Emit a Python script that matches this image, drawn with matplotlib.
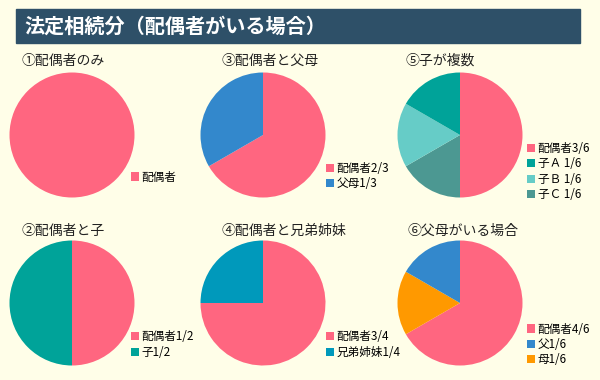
import matplotlib.pyplot as plt
from matplotlib.patches import Rectangle, Patch

plt.rcParams['font.family'] = ['Noto Sans CJK JP', 'DejaVu Sans']

W, H = 600, 380
bg = '#fffee8'

main_title = '法定相続分（配偶者がいる場合）'

titles = ['①配偶者のみ', '③配偶者と父母', '⑤子が複数',
          '②配偶者と子', '④配偶者と兄弟姉妹', '⑥父母がいる場合']

labels1 = ['配偶者']
labels3 = ['配偶者2/3', '父母1/3']
labels5 = ['配偶者3/6', '子Ａ 1/6', '子Ｂ 1/6', '子Ｃ 1/6']
labels2 = ['配偶者1/2', '子1/2']
labels4 = ['配偶者3/4', '兄弟姉妹1/4']
labels6 = ['配偶者4/6', '父1/6', '母1/6']

values1 = [1]
values3 = [2, 1]
values5 = [3, 1, 1, 1]
values2 = [1, 1]
values4 = [3, 1]
values6 = [4, 1, 1]

colors1 = ['#ff6680']
colors3 = ['#ff6680', '#3388cc']
colors5 = ['#ff6680', '#00a399', '#66ccc7', '#4c9892']
colors2 = ['#ff6680', '#00a399']
colors4 = ['#ff6680', '#0099bb']
colors6 = ['#ff6680', '#3388cc', '#ff9900']

charts = [
    (labels1, values1, colors1),
    (labels3, values3, colors3),
    (labels5, values5, colors5),
    (labels2, values2, colors2),
    (labels4, values4, colors4),
    (labels6, values6, colors6),
]

# layout in pixels
centers = [(72, 135), (263, 135), (460, 135), (72, 303), (263, 303), (460, 303)]
radius = 62.5
title_pos = [(21, 61), (221, 61), (406, 61), (21, 231), (221, 231), (407, 231)]
legend_pos = [(131, 177), (326, 176), (527, 171.5), (131, 344.5), (326, 344.5), (527, 344.5)]

fig = plt.figure(figsize=(W / 100, H / 100), dpi=100)
fig.patch.set_facecolor(bg)

# title bar
fig.patches.append(Rectangle((16 / W, 1 - 43 / H), 564 / W, 34 / H,
                             transform=fig.transFigure, color='#2e5068', zorder=0))
fig.text(24 / W, 1 - 26 / H, main_title, color='white', fontsize=14.5,
         fontweight='bold', va='center', ha='left')

for i, (labs, vals, cols) in enumerate(charts):
    cx, cy = centers[i]
    ax = fig.add_axes([(cx - radius) / W, 1 - (cy + radius) / H,
                       2 * radius / W, 2 * radius / H])
    # clockwise from 12 o'clock: spouse first, then the others in reverse order
    v = [vals[0]] + vals[1:][::-1]
    c = [cols[0]] + cols[1:][::-1]
    ax.pie(v, colors=c, startangle=90, counterclock=False,
           wedgeprops={'linewidth': 0})
    ax.set_xlim(-1, 1)
    ax.set_ylim(-1, 1)
    ax.axis('off')

    tx, ty = title_pos[i]
    fig.text(tx / W, 1 - ty / H, titles[i], fontsize=10, va='center', ha='left',
             color='#222222')

    handles = [Patch(facecolor=col, edgecolor='none') for col in cols]
    lx, ly = legend_pos[i]
    fig.legend(handles, labs, loc='center left',
               bbox_to_anchor=(lx / W, 1 - ly / H), frameon=False,
               fontsize=8.4, handlelength=0.7, handleheight=0.7,
               handletextpad=0.2, labelspacing=0.2, borderpad=0,
               borderaxespad=0)

fig.savefig('out.png', dpi=100, facecolor=bg)
